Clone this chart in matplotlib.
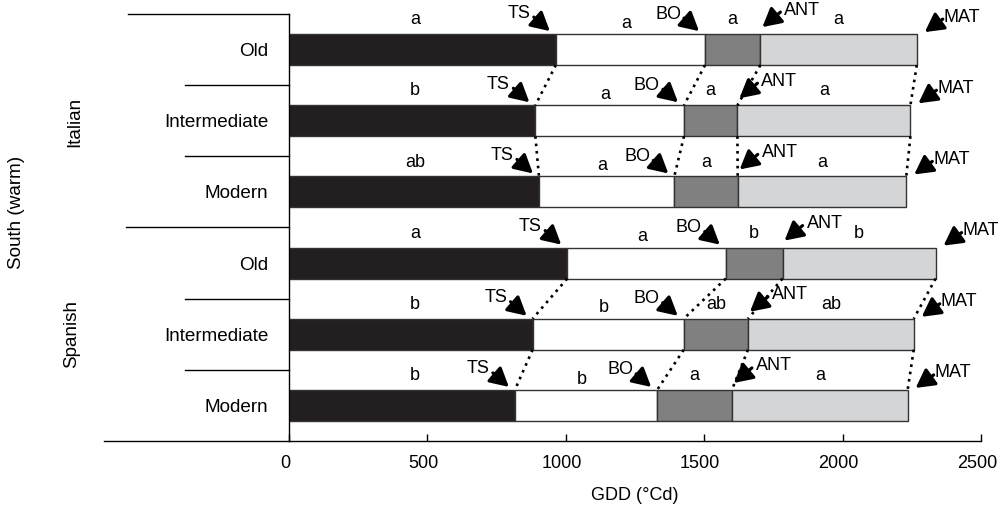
import matplotlib
matplotlib.use("Agg")
import matplotlib.pyplot as plt
from matplotlib.transforms import blended_transform_factory, ScaledTranslation
from matplotlib.lines import Line2D

plt.rcParams['font.family'] = ['Liberation Sans', 'DejaVu Sans']

# ---- data ----
groups = ["Italian", "Spanish"]
eras = ["Old", "Intermediate", "Modern", "Old", "Intermediate", "Modern"]
ts = [964, 890, 903, 1005, 880, 816]
bo = [1503, 1427, 1392, 1578, 1426, 1330]
ant = [1703, 1620, 1621, 1783, 1658, 1600]
mat = [2268, 2245, 2230, 2336, 2257, 2235]
let_veg = ["a", "b", "ab", "a", "b", "b"]
let_ts_bo = ["a", "a", "a", "a", "b", "b"]
let_bo_ant = ["a", "a", "a", "b", "ab", "a"]
let_ant_mat = ["a", "a", "a", "b", "ab", "a"]
xticks = [0, 500, 1000, 1500, 2000, 2500]

FS = 13
W, H = 998, 505
fig = plt.figure(figsize=(W / 100, H / 100), dpi=100)
L, R, T, B = 289, 981, 14, 441
ax = fig.add_axes([L / W, 1 - B / H, (R - L) / W, (B - T) / H])

n = len(eras)
ypos = [i + 0.5 for i in range(n)]
bh = 0.435
colors = ["#231f20", "white", "#808080", "#d4d5d7"]
starts = [[0] * n, ts, bo, ant]
ends = [ts, bo, ant, mat]
for s, e, c in zip(starts, ends, colors):
    ax.barh(ypos, [b - a for a, b in zip(s, e)], left=s, height=bh, color=c,
            edgecolor="#333333", linewidth=1.0, zorder=2)

ax.set_xlim(0, 2500)
ax.set_ylim(n, 0)
ax.set_xticks(xticks)
ax.set_xticklabels([str(v) for v in xticks], fontsize=FS)
ax.tick_params(axis='x', direction='in', length=5, width=1, pad=10)
for lab in ax.get_xticklabels():
    lab.set_transform(lab.get_transform() + ScaledTranslation(-4 / 100, 0, fig.dpi_scale_trans))
ax.set_yticks(ypos)
ax.set_yticklabels(eras, fontsize=13.6)
ax.tick_params(axis='y', length=0, pad=15)
ax.set_xlabel("GDD (°Cd)", fontsize=FS, labelpad=11)
for sp in ["top", "right"]:
    ax.spines[sp].set_visible(False)
for sp in ["left", "bottom"]:
    ax.spines[sp].set_linewidth(1.0)

# separator lines to the left
bt = blended_transform_factory(ax.transAxes, ax.transData)
def fx(px):
    return (px - L) / (R - L)
sep = [(0, 128), (1, 185), (2, 185), (3, 126), (4, 185), (5, 185), (6, 104)]
for yv, px in sep:
    ax.add_line(Line2D([fx(px), 0], [yv, yv], transform=bt, color="black",
                       lw=1.0, clip_on=False))

# group / region labels
fig.text(75 / W, 1 - 122 / H, groups[0], rotation=90, ha='center', va='center', fontsize=13.6)
fig.text(72 / W, 1 - 334 / H, groups[1], rotation=90, ha='center', va='center', fontsize=13.6)
fig.text(17 / W, 1 - 212 / H, "South (warm)", rotation=90, ha='center', va='center', fontsize=13.6)

# significance letters
for i in range(n):
    ly = ypos[i] - 0.42
    ax.text(455, ly, let_veg[i], ha='center', va='center', fontsize=FS)
    ax.text((ts[i] + bo[i]) / 2 - 15, ly + 0.05, let_ts_bo[i], ha='center', va='center', fontsize=FS)
    ax.text((bo[i] + ant[i]) / 2, ly, let_bo_ant[i], ha='center', va='center', fontsize=FS)
    ax.text((ant[i] + mat[i]) / 2, ly, let_ant_mat[i], ha='center', va='center', fontsize=FS)

# arrows (offsets in pixels relative to the bar corner, +y is up)
def off(dx, dy):
    return ax.transData + ScaledTranslation(dx / 100, dy / 100, fig.dpi_scale_trans)

def arrow(x, y, label, tip, start, txt):
    ax.annotate("", xy=(x, y), xycoords=off(*tip),
                xytext=(x, y), textcoords=off(*start), annotation_clip=False,
                arrowprops=dict(arrowstyle='-|>,head_length=0.7,head_width=0.38',
                                mutation_scale=16, color='black', lw=2.3,
                                shrinkA=0, shrinkB=0))
    ax.text(x, y, label, transform=off(*txt), ha='center', va='center',
            fontsize=FS, clip_on=False)

for i in range(n):
    top = ypos[i] - bh / 2
    arrow(ts[i], top, "TS", (-6, 3), (-22, 17), (-37, 21))
    arrow(bo[i], top, "BO", (-6, 3), (-21, 16), (-37, 20))
    arrow(ant[i], top, "ANT", (2, 7), (20, 22), (42, 24))
    arrow(mat[i], top, "MAT", (8, 2), (26, 15), (45, 17))

# dotted connectors within groups
for g0 in (0, 3):
    for i in (g0, g0 + 1):
        j = i + 1
        for arr in (ts, bo, ant, mat):
            ax.plot([arr[i], arr[j]], [ypos[i] + bh / 2, ypos[j] - bh / 2],
                    color='black', lw=1.9, linestyle=(0, (1, 1.8)), zorder=3,
                    clip_on=False)

fig.savefig("out.png", dpi=100)
